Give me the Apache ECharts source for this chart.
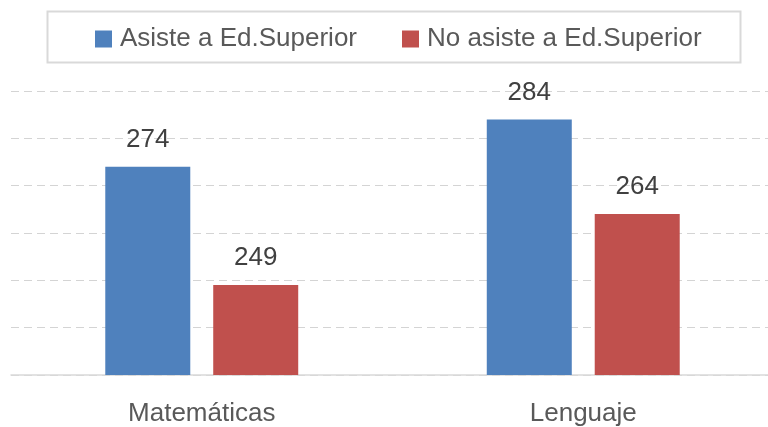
<!DOCTYPE html>
<html>
<head>
<meta charset="utf-8">
<script src="https://cdn.jsdelivr.net/npm/echarts@6/dist/echarts.min.js"></script>
<style>
  html, body { margin: 0; padding: 0; background: #fff; }
  #chart { width: 768px; height: 427px; }
</style>
</head>
<body>
<div id="chart"></div>
<script>
  // datos
  const categories = ['Matemáticas', 'Lenguaje']
  const seriesNames = ['Asiste a Ed.Superior', 'No asiste a Ed.Superior']
  const asiste = [274, 284]
  const noAsiste = [249, 264]
  const yMin = 230
  const yMax = 290
  const yStep = 10

  const font = '"Liberation Sans", Arial, sans-serif'
  const chart = echarts.init(document.getElementById('chart'))

  chart.setOption({
    animation: false,
    color: ['#4f81bd', '#c0504d'],
    graphic: [
      {
        type: 'rect',
        left: 45,
        top: 9,
        shape: { width: 693, height: 51 },
        style: { fill: 'none', stroke: '#d9d9d9', lineWidth: 2 },
        z: 0
      }
    ],
    legend: {
      data: seriesNames,
      left: 90,
      top: 21,
      itemWidth: 17,
      itemHeight: 17,
      itemGap: 45,
      icon: 'rect',
      textStyle: { fontFamily: font, fontSize: 26, color: '#595959', padding: [0, 0, 0, 3] }
    },
    grid: {
      left: 11,
      top: 91,
      width: 763,
      bottom: 52,
      outerBoundsMode: 'none'
    },
    xAxis: {
      type: 'category',
      data: categories,
      axisTick: { show: false },
      axisLine: { lineStyle: { color: '#d9d9d9', width: 1.5 } },
      axisLabel: { fontFamily: font, fontSize: 26, color: '#595959', margin: 26 }
    },
    yAxis: {
      type: 'value',
      min: yMin,
      max: yMax,
      interval: yStep,
      axisLabel: { show: false },
      axisLine: { show: false },
      axisTick: { show: false },
      splitLine: { lineStyle: { color: '#d4d4d4', type: [8, 5], width: 1 } }
    },
    series: [
      {
        name: seriesNames[0],
        type: 'bar',
        data: asiste,
        barWidth: 85,
        barGap: '27%',
        label: { show: true, position: 'top', distance: 14, fontFamily: font, fontSize: 26, color: '#404040' }
      },
      {
        name: seriesNames[1],
        type: 'bar',
        data: noAsiste,
        barWidth: 85,
        label: { show: true, position: 'top', distance: 14, fontFamily: font, fontSize: 26, color: '#404040' }
      }
    ]
  })
</script>
</body>
</html>
